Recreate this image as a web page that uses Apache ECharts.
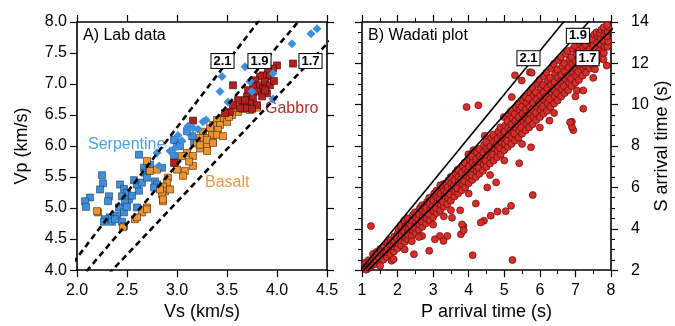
<!DOCTYPE html>
<html><head><meta charset="utf-8">
<script src="https://cdn.jsdelivr.net/npm/echarts@6/dist/echarts.min.js"></script>
<style>html,body{margin:0;padding:0;background:#fff}#c{width:675px;height:326px}</style>
</head><body><div id="c"></div>
<script>
// ---------- Panel A: lab data (Vs, Vp) ----------
const serpentineSquares = [[2.13,5.17],[2.08,5.11],[2.09,5.02],[2.25,5.53],[2.26,5.40],[2.23,5.30],[2.32,5.19],[2.31,5.11],[2.43,5.38],[2.47,5.31],[2.50,5.25],[2.45,5.19],[2.52,5.14],[2.48,5.09],[2.42,5.01],[2.47,4.93],[2.40,4.88],[2.33,4.85],[2.28,4.82],[2.27,4.78],[2.35,4.78],[2.38,4.82],[2.45,4.78],[2.47,4.71],[2.60,5.01],[2.62,5.28],[2.60,5.38],[2.65,5.41],[2.62,5.86],[2.67,5.65],[2.68,5.57],[2.72,5.60],[2.70,5.49],[2.78,5.43],[2.80,5.38],[2.77,5.33],[2.85,5.65],[2.97,5.84],[3.00,6.05],[2.97,6.10],[3.15,6.16],[3.10,6.24],[3.17,6.05],[2.55,5.20],[2.50,5.02],[2.57,5.45],[2.73,5.70],[3.03,6.00]];
const serpentineDiamonds = [[4.40,7.89],[4.34,7.81],[4.15,7.65],[3.68,7.28],[3.96,7.17],[3.45,7.12],[3.73,7.04],[3.43,6.88],[3.75,6.88],[3.96,6.76],[3.51,6.71],[3.26,6.39],[3.16,6.29],[3.10,6.23],[3.01,6.17],[3.11,6.32],[3.21,6.27],[2.82,5.68],[2.80,5.89],[2.98,5.97],[3.05,6.08],[2.93,5.92],[3.29,6.42]];
const basalt = [[3.80,6.62],[3.73,6.58],[3.61,6.55],[3.55,6.50],[3.46,6.45],[3.40,6.42],[3.50,6.39],[3.43,6.34],[3.36,6.34],[3.33,6.29],[3.41,6.26],[3.26,6.23],[3.35,6.18],[3.28,6.13],[3.23,6.13],[3.36,6.07],[3.30,6.02],[3.20,6.04],[3.23,5.96],[3.40,6.18],[3.46,6.16],[3.30,6.10],[3.36,6.05],[3.23,6.02],[3.30,5.92],[3.10,5.89],[3.16,5.84],[3.05,5.84],[3.16,5.68],[3.08,5.60],[3.06,5.52],[3.00,5.62],[2.98,5.73],[2.91,5.49],[2.90,5.41],[2.86,5.35],[2.88,5.27],[2.85,5.22],[2.86,5.11],[2.93,5.30],[2.80,5.62],[2.70,5.76],[2.73,5.60],[2.70,5.01],[2.65,4.93],[2.58,4.82],[2.46,4.69],[2.21,4.93],[2.83,5.30],[2.86,5.14],[2.70,4.98],[2.60,4.85],[2.20,4.95],[3.52,6.47],[3.66,6.60],[3.12,5.75]];
const gabbro = [[4.16,7.33],[4.00,7.30],[3.96,7.25],[3.91,7.20],[3.86,7.14],[3.93,7.12],[3.83,7.12],[3.78,7.06],[3.88,7.04],[3.81,6.98],[3.76,6.96],[3.86,6.93],[3.93,6.98],[3.71,6.90],[3.80,6.88],[3.90,6.85],[3.70,6.80],[3.76,6.77],[3.85,6.80],[3.66,6.71],[3.73,6.69],[3.61,6.74],[3.56,6.98],[3.56,6.66],[3.63,6.61],[3.70,6.61],[3.53,6.55],[3.48,6.53],[3.16,6.41],[3.80,6.66],[3.75,6.60],[2.97,5.73],[3.97,7.05],[3.88,6.90],[3.68,6.74]];
const vpvsRatios = [2.1, 1.9, 1.7];

// ---------- Panel B: Wadati plot (P, S arrival time) ----------
const wadatiCore = [[1.05,1.95],[1.08,2.12],[1.12,2.02],[1.14,2.22],[1.1,2.36],
[1.2,2.1],[1.22,2.32],[1.18,2.48],[1.25,2.2],
[1.3,2.25],[1.28,2.42],[1.33,2.6],[1.31,2.78],
[1.4,2.3],[1.38,2.52],[1.42,2.7],[1.41,2.88],
[1.5,2.38],[1.48,2.6],[1.52,2.82],[1.51,3.02],
[1.6,2.5],[1.62,2.74],[1.58,2.96],[1.61,3.16],
[1.7,2.62],[1.68,2.86],[1.72,3.06],[1.71,3.32],
[1.8,2.76],[1.82,3.0],[1.78,3.24],[1.81,3.46],
[1.9,2.9],[1.88,3.16],[1.92,3.4],[1.91,3.62],
[2.0,3.06],[2.02,3.3],[1.98,3.56],[2.01,3.8],[2.03,3.98],
[2.1,3.2],[2.08,3.46],[2.12,3.7],[2.11,3.92],[2.09,4.16],
[2.2,3.36],[2.22,3.6],[2.18,3.86],[2.21,4.1],[2.19,4.4],
[2.3,3.5],[2.28,3.76],[2.32,4.0],[2.31,4.26],[2.29,4.5],
[2.4,3.66],[2.42,3.94],[2.38,4.16],[2.41,4.4],[2.43,4.66],
[2.5,3.8],[2.48,4.06],[2.52,4.3],[2.51,4.56],[2.49,4.8],
[2.6,3.96],[2.62,4.2],[2.58,4.46],[2.61,4.7],[2.63,5.0],
[2.7,4.1],[2.68,4.36],[2.72,4.6],[2.71,4.86],[2.69,5.14],
[2.8,4.26],[2.82,4.5],[2.78,4.8],[2.81,5.0],[2.83,5.3],
[2.9,4.4],[2.88,4.7],[2.92,4.96],[2.91,5.2],[2.89,5.5],
[3.0,4.56],[3.02,4.86],[2.98,5.1],[3.01,5.36],[3.03,5.7],
[3.1,4.76],[3.08,5.0],[3.12,5.26],[3.11,5.5],[3.09,5.84],
[3.2,4.9],[3.22,5.16],[3.18,5.44],[3.21,5.7],[3.23,6.0],
[3.3,5.06],[3.28,5.3],[3.32,5.6],[3.31,5.86],[3.29,6.16],
[3.4,5.2],[3.42,5.5],[3.38,5.76],[3.41,6.0],[3.43,6.34],
[3.5,5.36],[3.48,5.66],[3.52,5.94],[3.51,6.2],[3.49,6.5],
[3.6,5.56],[3.62,5.8],[3.58,6.1],[3.61,6.36],[3.63,6.7],
[3.7,5.7],[3.68,5.96],[3.72,6.26],[3.71,6.5],[3.69,6.86],
[3.8,5.86],[3.82,6.16],[3.78,6.4],[3.81,6.7],[3.83,7.04],
[3.9,6.0],[3.88,6.3],[3.92,6.6],[3.91,6.86],[3.89,7.2],
[4.0,6.2],[4.02,6.46],[3.98,6.76],[4.01,7.0],[4.03,7.34],[3.99,7.6],
[4.1,6.36],[4.08,6.6],[4.12,6.9],[4.11,7.2],[4.09,7.5],[4.13,7.8],
[4.2,6.5],[4.22,6.8],[4.18,7.06],[4.21,7.36],[4.23,7.7],
[4.3,6.66],[4.28,6.96],[4.32,7.26],[4.31,7.5],[4.29,7.86],
[4.4,6.8],[4.42,7.1],[4.38,7.4],[4.41,7.7],[4.43,8.04],
[4.5,7.0],[4.48,7.3],[4.52,7.56],[4.51,7.86],[4.49,8.2],
[4.6,7.16],[4.62,7.46],[4.58,7.76],[4.61,8.0],[4.63,8.4],
[4.7,7.3],[4.68,7.6],[4.72,7.9],[4.71,8.2],[4.69,8.56],
[4.8,7.46],[4.82,7.76],[4.78,8.06],[4.81,8.36],[4.83,8.7],
[4.9,7.6],[4.88,7.9],[4.92,8.2],[4.91,8.5],[4.89,8.9],
[5.0,7.8],[5.02,8.1],[4.98,8.4],[5.01,8.7],[5.03,9.0],[4.99,9.4],
[5.1,7.96],[5.08,8.26],[5.12,8.56],[5.11,8.86],[5.09,9.2],[5.13,9.56],
[5.2,8.1],[5.22,8.4],[5.18,8.76],[5.21,9.06],[5.23,9.36],[5.19,9.7],
[5.3,8.26],[5.28,8.6],[5.32,8.9],[5.31,9.2],[5.29,9.56],[5.33,9.86],
[5.4,8.4],[5.42,8.76],[5.38,9.06],[5.41,9.4],[5.43,9.76],[5.39,10.04],
[5.5,8.6],[5.48,8.9],[5.52,9.26],[5.51,9.56],[5.49,9.9],[5.53,10.2],
[5.6,8.76],[5.62,9.1],[5.58,9.4],[5.61,9.76],[5.63,10.1],[5.59,10.4],
[5.7,8.9],[5.68,9.26],[5.72,9.6],[5.71,9.9],[5.69,10.3],[5.73,10.6],
[5.8,9.06],[5.82,9.4],[5.78,9.76],[5.81,10.1],[5.83,10.46],[5.79,10.8],
[5.9,9.26],[5.88,9.6],[5.92,9.9],[5.91,10.26],[5.89,10.6],[5.93,11.0],
[6.0,9.4],[6.02,9.76],[5.98,10.1],[6.01,10.46],[6.03,10.8],[5.99,11.2],
[6.1,9.56],[6.08,9.9],[6.12,10.26],[6.11,10.6],[6.09,10.96],[6.13,11.36],
[6.2,9.7],[6.22,10.06],[6.18,10.4],[6.21,10.8],[6.23,11.16],[6.19,11.56],
[6.3,9.9],[6.28,10.26],[6.32,10.6],[6.31,10.96],[6.29,11.3],[6.33,11.76],
[6.4,10.06],[6.42,10.4],[6.38,10.76],[6.41,11.1],[6.43,11.5],[6.39,11.96],
[6.5,10.2],[6.48,10.56],[6.52,10.9],[6.51,11.3],[6.49,11.7],[6.53,12.16],
[6.6,10.4],[6.62,10.76],[6.58,11.1],[6.61,11.46],[6.63,11.86],[6.59,12.3],
[6.7,10.56],[6.68,10.9],[6.72,11.26],[6.71,11.6],[6.69,12.0],[6.73,12.46],
[6.8,10.7],[6.82,11.06],[6.78,11.4],[6.81,11.8],[6.83,12.16],[6.79,12.6],
[6.9,10.9],[6.88,11.26],[6.92,11.6],[6.91,11.96],[6.89,12.3],[6.93,12.7],
[7.0,11.06],[7.02,11.4],[6.98,11.76],[7.01,12.1],[7.03,12.46],[6.99,12.84],
[7.1,11.2],[7.08,11.6],[7.12,11.9],[7.11,12.26],[7.09,12.6],[7.13,12.96],
[7.2,11.4],[7.22,11.76],[7.18,12.1],[7.21,12.4],[7.23,12.76],[7.19,13.06],
[7.3,11.56],[7.28,11.9],[7.32,12.26],[7.31,12.56],[7.29,12.9],[7.33,13.16],
[7.4,11.76],[7.42,12.1],[7.38,12.4],[7.41,12.7],[7.43,13.0],[7.39,13.26],
[7.5,11.9],[7.48,12.26],[7.52,12.56],[7.51,12.86],[7.49,13.16],[7.53,13.4],
[7.6,12.1],[7.62,12.4],[7.58,12.7],[7.61,13.0],[7.63,13.3],[7.59,13.5],
[7.7,12.3],[7.68,12.6],[7.72,12.9],[7.71,13.2],[7.69,13.46],[7.73,13.62],
[7.8,12.5],[7.82,12.8],[7.78,13.1],[7.81,13.36],[7.83,13.6],[7.79,13.74],
[7.9,12.8],[7.92,13.06],[7.88,13.3],[7.91,13.56],[7.93,13.76],[7.89,13.86]];
const wadatiScatter = [[5.75,7.94],[5.42,7.17],[4.77,6.24],[4.52,6.0],[5.8,5.63],[4.2,5.22],[5.19,5.11],[5.04,4.85],[4.81,4.83],[4.62,4.63],[4.43,4.39],[4.34,4.3],[4.11,2.72],[5.23,2.49],[6.94,8.77],[1.25,4.13],[2.46,2.77],[2.89,2.93],[3.4,3.65],[3.19,3.65],[3.29,3.41],[3.05,3.49],[3.78,3.73],[3.85,4.13],[1.83,2.45],[1.51,2.21],[3.94,9.89],[4.27,9.97],[5.72,11.57],[5.49,11.17],[7.04,10.69],[7.22,10.69],[7.22,9.81],[6.9,9.17],[6.9,8.93],[5.21,10.37],[7.88,11.89],[7.79,12.19],[7.55,11.71],[6.27,9.23],[6.85,9.15],[3.81,4.21],[3.86,3.93],[3.76,4.89],[3.53,4.53],[2.69,3.65],[1.89,2.53],[5.3,11.42],[5.77,11.55],[2.2,3.0],[2.6,3.6],[3.0,4.2],[3.5,4.9],[4.0,5.7],[4.6,6.6],[5.0,7.3],[5.5,8.1],[6.0,8.9],[6.4,9.6],[7.0,10.4],[7.5,11.3],[3.3,4.6],[2.4,3.4],[4.45,8.5],[3.2,6.1]];
const wadatiRatios = [2.1, 1.9, 1.7];

// label positions for ratio boxes (data units)
const labelsA = [[3.455,7.37,'2.1'],[3.825,7.37,'1.9'],[4.335,7.37,'1.7']];
const labelsB = [[5.68,12.25,'2.1'],[7.07,13.33,'1.9'],[7.34,12.25,'1.7']];

const chart = echarts.init(document.getElementById('c'), null, {renderer:'canvas'});
const FONT = 'Liberation Sans';
const axisLine = {show:true, onZero:false, lineStyle:{color:'#000', width:1.6}};
const tick = {show:true, inside:false, length:7, lineStyle:{color:'#000', width:1.2}};
const lbl = {color:'#000', fontSize:16, fontFamily:FONT};

function ratioLines(ratios, xmin, xmax, xi, yi, dashed){
  return ratios.map(r => ({
    type:'line', xAxisIndex:xi, yAxisIndex:yi, symbol:'none', silent:true, clip:true, z:5,
    data:[[xmin, xmin*r],[xmax, xmax*r]],
    lineStyle:{color:'#000', width: dashed?2.6:1.6, type: dashed?[6,4]:'solid'}
  }));
}
function boxLabels(items, xi, yi){
  return {type:'scatter', xAxisIndex:xi, yAxisIndex:yi, symbolSize:0, silent:true, z:10,
    data: items.map(d => ({value:[d[0],d[1]], name:d[2]})),
    itemStyle:{opacity:1},
    label:{show:true, position:'inside', formatter:p=>p.name, color:'#000', fontSize:13, fontWeight:'bold',
      fontFamily:FONT, backgroundColor:'#ffffff', borderColor:'#000', borderWidth:1, padding:[1,2,0,2], opacity:1}};
}

const option = {
  animation:false,
  backgroundColor:'#fff',
  grid:[{left:77, top:22, width:250, height:249},{left:362, top:22, width:249, height:249}],
  xAxis:[
    {type:'value', gridIndex:0, position:'bottom', min:2, max:4.5, interval:0.5, axisLine, axisTick:tick, splitLine:{show:false},
      axisLabel:{...lbl, margin:12, formatter:v=>v.toFixed(1)},
      name:'Vs (km/s)', nameLocation:'middle', nameGap:30, nameTextStyle:{fontSize:18, fontFamily:FONT, color:'#000'}},
    {type:'value', gridIndex:0, position:'top', min:2, max:4.5, interval:0.5, axisLine, axisTick:tick, splitLine:{show:false}, axisLabel:{show:false}},
    {type:'value', gridIndex:1, position:'bottom', min:1, max:8, interval:1, axisLine, axisTick:tick, splitLine:{show:false},
      minorTick:{show:true, splitNumber:2, length:4, lineStyle:{color:'#000', width:1}},
      axisLabel:{...lbl, margin:12},
      name:'P arrival time (s)', nameLocation:'middle', nameGap:30, nameTextStyle:{fontSize:18, fontFamily:FONT, color:'#000'}},
    {type:'value', gridIndex:1, position:'top', min:1, max:8, interval:1, axisLine, axisTick:tick, splitLine:{show:false},
      minorTick:{show:true, splitNumber:2, length:4, lineStyle:{color:'#000', width:1}}, axisLabel:{show:false}}
  ],
  yAxis:[
    {type:'value', gridIndex:0, position:'left', min:4, max:8, interval:0.5, axisLine, axisTick:tick, splitLine:{show:false},
      axisLabel:{...lbl, margin:10, formatter:v=>v.toFixed(1)},
      name:'Vp (km/s)', nameLocation:'middle', nameGap:46, nameRotate:90, nameTextStyle:{fontSize:18, fontFamily:FONT, color:'#000'}},
    {type:'value', gridIndex:0, position:'right', min:4, max:8, interval:0.5, axisLine, axisTick:tick, splitLine:{show:false}, axisLabel:{show:false}},
    {type:'value', gridIndex:1, position:'left', min:2, max:14, interval:2, axisLine, axisTick:tick, splitLine:{show:false},
      minorTick:{show:true, splitNumber:4, length:4, lineStyle:{color:'#000', width:1}}, axisLabel:{show:false}},
    {type:'value', gridIndex:1, position:'right', min:2, max:14, interval:2, axisLine, axisTick:tick, splitLine:{show:false},
      minorTick:{show:true, splitNumber:4, length:4, lineStyle:{color:'#000', width:1}},
      axisLabel:{...lbl, margin:20},
      name:'S arrival time (s)', nameLocation:'middle', nameGap:38, nameRotate:90, nameTextStyle:{fontSize:18, fontFamily:FONT, color:'#000'}}
  ],
  series:[
    {type:'scatter', name:'Serpentine', xAxisIndex:0, yAxisIndex:0, symbol:'rect', symbolSize:7, data:serpentineSquares,
      itemStyle:{color:'#3d8fdb', borderColor:'#1d3e63', borderWidth:0.6, opacity:1}},
    {type:'scatter', name:'Basalt', xAxisIndex:0, yAxisIndex:0, symbol:'rect', symbolSize:7, data:basalt,
      itemStyle:{color:'#ec9430', borderColor:'#4a2a05', borderWidth:0.6, opacity:1}},
    {type:'scatter', name:'Gabbro', xAxisIndex:0, yAxisIndex:0, symbol:'rect', symbolSize:7, data:gabbro,
      itemStyle:{color:'#b41f1f', borderColor:'#3a0505', borderWidth:0.6, opacity:1}},
    {type:'scatter', name:'Serpentine diamonds', xAxisIndex:0, yAxisIndex:0, symbol:'diamond', symbolSize:9, data:serpentineDiamonds,
      itemStyle:{color:'#3d8fdb', opacity:1}},
    ...ratioLines(vpvsRatios, 1.9, 4.6, 0, 0, true),
    boxLabels(labelsA, 0, 0),
    {type:'scatter', name:'Wadati', xAxisIndex:2, yAxisIndex:2, symbol:'circle', symbolSize:7, data:wadatiCore.concat(wadatiScatter),
      itemStyle:{color:'#d62e2a', borderColor:'#5e0c0c', borderWidth:0.7, opacity:1}},
    ...ratioLines(wadatiRatios, 0.9, 8.2, 2, 2, false),
    boxLabels(labelsB, 2, 2)
  ],
  graphic:[
    {type:'text', left:83, top:28, style:{text:'A) Lab data', fontSize:16, fontFamily:FONT, fill:'#000'}},
    {type:'text', left:368, top:28, style:{text:'B) Wadati plot', fontSize:16, fontFamily:FONT, fill:'#000'}},
    {type:'text', left:88, top:137, style:{text:'Serpentine', fontSize:16, fontFamily:FONT, fill:'#4a9fe6'}},
    {type:'text', left:205, top:175, style:{text:'Basalt', fontSize:16, fontFamily:FONT, fill:'#e69a3e'}},
    {type:'text', left:265, top:101, style:{text:'Gabbro', fontSize:16, fontFamily:FONT, fill:'#b3302b'}}
  ]
};
chart.setOption(option);
</script></body></html>
